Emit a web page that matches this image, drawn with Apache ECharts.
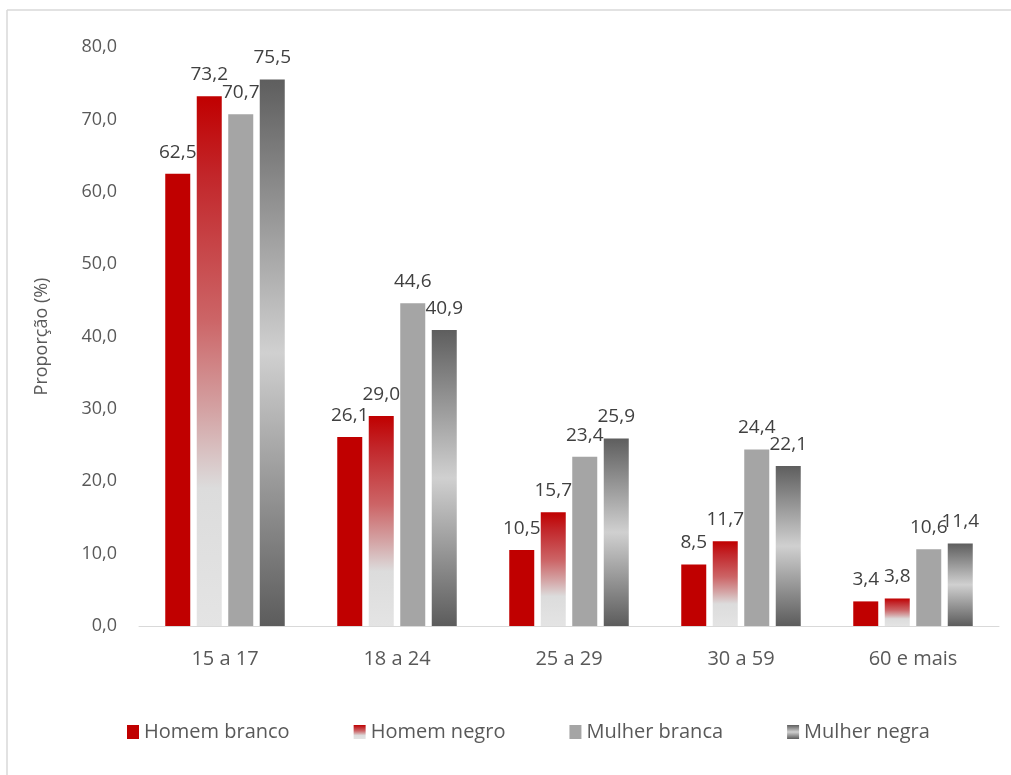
<!DOCTYPE html>
<html>
<head>
<meta charset="utf-8">
<script src="https://cdn.jsdelivr.net/npm/echarts@6/dist/echarts.min.js"></script>
<style>html,body{margin:0;padding:0;background:#fff;}#c{width:1011px;height:775px;}</style>
</head>
<body>
<div id="c"></div>
<script>
var categories = ['15 a 17', '18 a 24', '25 a 29', '30 a 59', '60 e mais'];
var homemBranco = [62.5, 26.1, 10.5, 8.5, 3.4];
var homemNegro = [73.2, 29.0, 15.7, 11.7, 3.8];
var mulherBranca = [70.7, 44.6, 23.4, 24.4, 10.6];
var mulherNegra = [75.5, 40.9, 25.9, 22.1, 11.4];
var seriesNames = ['Homem branco', 'Homem negro', 'Mulher branca', 'Mulher negra'];
var yTicks = { min: 0, max: 80, interval: 10 };

var FONT = '"Open Sans", "Noto Sans", sans-serif';
function fmt(v) { return v.toFixed(1).replace('.', ','); }

var negroGrad = new echarts.graphic.LinearGradient(0, 0, 0, 1, [
  { offset: 0, color: '#C00000' },
  { offset: 0.15, color: '#C2262A' },
  { offset: 0.42, color: '#CC6466' },
  { offset: 0.6, color: '#D4A5A6' },
  { offset: 0.74, color: '#DCDCDC' },
  { offset: 1, color: '#E4E4E4' }
]);
var negraGrad = new echarts.graphic.LinearGradient(0, 0, 0, 1, [
  { offset: 0, color: '#5E5E5E' },
  { offset: 0.5, color: '#D0D0D0' },
  { offset: 1, color: '#5C5C5C' }
]);
var colors = ['#C00000', negroGrad, '#A5A5A5', negraGrad];
var dataSets = [homemBranco, homemNegro, mulherBranca, mulherNegra];

var chart = echarts.init(document.getElementById('c'));
chart.setOption({
  animation: false,
  backgroundColor: '#fff',
  textStyle: { fontFamily: FONT },
  graphic: [
    { type: 'line', shape: { x1: 7, y1: 10, x2: 7, y2: 775 }, style: { stroke: '#D9D9D9', lineWidth: 1.5 } },
    { type: 'line', shape: { x1: 7, y1: 10, x2: 1011, y2: 10 }, style: { stroke: '#D9D9D9', lineWidth: 1.5 } }
  ],
  grid: { left: 139, right: 12, top: 47, bottom: 149, containLabel: false },
  legend: {
    bottom: 28,
    left: 122,
    itemWidth: 12,
    itemHeight: 14,
    itemGap: 64,
    icon: 'rect',
    textStyle: { fontSize: 20, color: '#595959', fontFamily: FONT },
    data: seriesNames
  },
  xAxis: {
    type: 'category',
    data: categories,
    axisLine: { lineStyle: { color: '#D9D9D9', width: 1 } },
    axisTick: { show: false },
    axisLabel: { fontSize: 20, color: '#595959', margin: 23, fontFamily: FONT }
  },
  yAxis: {
    type: 'value',
    min: yTicks.min,
    max: yTicks.max,
    interval: yTicks.interval,
    name: 'Proporção (%)',
    nameLocation: 'middle',
    nameGap: 88,
    nameTextStyle: { fontSize: 18, color: '#595959', fontFamily: FONT },
    axisLine: { show: false },
    axisTick: { show: false },
    splitLine: { show: false },
    axisLabel: { fontSize: 18, color: '#595959', margin: 22, fontFamily: FONT, formatter: function (v) { return fmt(v); } }
  },
  series: dataSets.map(function (d, i) {
    return {
      name: seriesNames[i],
      type: 'bar',
      data: d,
      barWidth: 25,
      barGap: '26%',
      itemStyle: { color: colors[i] },
      label: {
        show: true,
        position: 'top',
        distance: 12,
        fontSize: 19,
        color: '#404040',
        fontFamily: FONT,
        formatter: function (p) { return fmt(p.value); }
      }
    };
  })
});
</script>
</body>
</html>
